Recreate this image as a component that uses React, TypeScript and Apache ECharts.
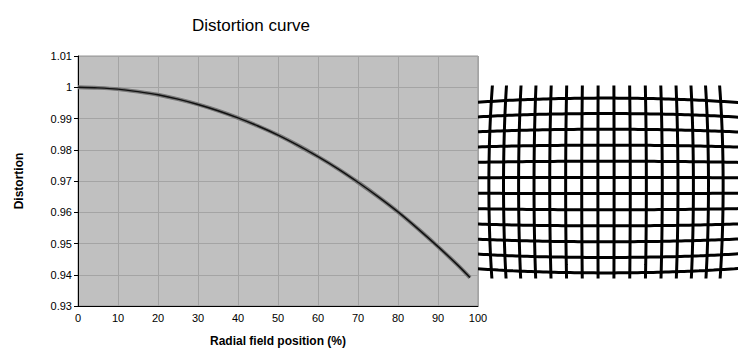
import React, { useEffect, useRef } from "react";
import * as echarts from "echarts";

// Distortion curve
const fieldPos = [0, 5, 10, 15, 20, 25, 30, 35, 40, 45, 50, 55, 60, 65, 70, 75, 80, 85, 90, 95, 98];
const distortion = [
  1.0, 0.9998, 0.9994, 0.9986, 0.9976, 0.9962, 0.9945, 0.9925, 0.9902, 0.9876, 0.9847,
  0.9814, 0.9778, 0.9739, 0.9696, 0.965, 0.9601, 0.9547, 0.949, 0.943, 0.9391,
];
const yTicks = [0.93, 0.94, 0.95, 0.96, 0.97, 0.98, 0.99, 1, 1.01];
const xTicks = [0, 10, 20, 30, 40, 50, 60, 70, 80, 90, 100];

// Illustration: a regular grid warped by the distortion curve above
const gridColumns = [-7.5, -6.5, -5.5, -4.5, -3.5, -2.5, -1.5, -0.5, 0.5, 1.5, 2.5, 3.5, 4.5, 5.5, 6.5, 7.5];
const gridRows = [-5.5, -4.5, -3.5, -2.5, -1.5, -0.5, 0.5, 1.5, 2.5, 3.5, 4.5, 5.5];
const gridPitch = 16.2; // undistorted spacing, image units
const fieldRadius = 160; // image units corresponding to 100 % radial field

const FONT = "'Liberation Sans', Arial, sans-serif";

function distortAt(rPct: number): number {
  const n = fieldPos.length;
  if (rPct <= fieldPos[0]) return distortion[0];
  for (let i = 1; i < n; i++) {
    if (rPct <= fieldPos[i]) {
      const t = (rPct - fieldPos[i - 1]) / (fieldPos[i] - fieldPos[i - 1]);
      return distortion[i - 1] + t * (distortion[i] - distortion[i - 1]);
    }
  }
  const slope = (distortion[n - 1] - distortion[n - 2]) / (fieldPos[n - 1] - fieldPos[n - 2]);
  return distortion[n - 1] + slope * (rPct - fieldPos[n - 1]);
}

function warp(u: number, v: number): [number, number] {
  const x = u * gridPitch;
  const y = v * gridPitch;
  const r = (Math.hypot(x, y) / fieldRadius) * 100;
  const d = distortAt(r);
  return [x * d, y * d];
}

function buildGridSeries(): any[] {
  const out: any[] = [];
  const style = {
    type: "line",
    xAxisIndex: 1,
    yAxisIndex: 1,
    showSymbol: false,
    silent: true,
    clip: true,
    smooth: true,
    lineStyle: { color: "#000", width: 3 },
  };
  for (const c of gridColumns) {
    const pts: [number, number][] = [];
    for (let v = -8; v <= 8.001; v += 0.5) pts.push(warp(c, v));
    out.push({ ...style, data: pts });
  }
  for (const r of gridRows) {
    const pts: [number, number][] = [];
    for (let u = -10; u <= 10.001; u += 0.5) pts.push(warp(u, -r));
    out.push({ ...style, data: pts });
  }
  return out;
}

export default function App() {
  const ref = useRef<HTMLDivElement>(null);
  useEffect(() => {
    if (!ref.current) return;
    const chart = echarts.init(ref.current, null, { renderer: "svg" });
    const curve = fieldPos.map((x, i) => [x, distortion[i]]);
    chart.setOption({
      animation: false,
      backgroundColor: "#fff",
      title: {
        text: "Distortion curve",
        left: 246,
        top: 12,
        textAlign: "center",
        textStyle: { fontFamily: FONT, fontSize: 17, fontWeight: "normal", color: "#000" },
      },
      grid: [
        {
          left: 78,
          top: 56,
          width: 400,
          height: 250,
          show: true,
          backgroundColor: "#c0c0c0",
          borderColor: "#969696",
          borderWidth: 1,
        },
        { left: 480, top: 87, width: 256, height: 190, show: false },
      ],
      xAxis: [
        {
          type: "value",
          gridIndex: 0,
          min: xTicks[0],
          max: xTicks[xTicks.length - 1],
          interval: 10,
          name: "Radial field position (%)",
          nameLocation: "middle",
          nameGap: 29,
          nameTextStyle: { fontFamily: FONT, fontSize: 12, fontWeight: "bold", color: "#000" },
          axisLine: { show: true, lineStyle: { color: "#000", width: 1 } },
          axisTick: { show: false },
          axisLabel: { fontFamily: FONT, fontSize: 11, color: "#000", margin: 6 },
          splitLine: { show: true, lineStyle: { color: "#a4a4a4", width: 1 } },
        },
        { type: "value", gridIndex: 1, min: -126, max: 130, show: false },
      ],
      yAxis: [
        {
          type: "value",
          gridIndex: 0,
          min: yTicks[0],
          max: yTicks[yTicks.length - 1],
          interval: 0.01,
          name: "Distortion",
          nameLocation: "middle",
          nameRotate: 90,
          nameGap: 53,
          nameTextStyle: { fontFamily: FONT, fontSize: 12, fontWeight: "bold", color: "#000" },
          axisLine: { show: true, lineStyle: { color: "#000", width: 1 } },
          axisTick: { show: true, inside: false, length: 4, lineStyle: { color: "#000" } },
          axisLabel: {
            fontFamily: FONT,
            fontSize: 11,
            color: "#000",
            margin: 6,
            formatter: (v: number) => String(Math.round(v * 100) / 100),
          },
          splitLine: { show: true, lineStyle: { color: "#a4a4a4", width: 1 } },
        },
        { type: "value", gridIndex: 1, min: -91.5, max: 98.5, show: false },
      ],
      series: [
        {
          type: "line",
          xAxisIndex: 0,
          yAxisIndex: 0,
          data: curve,
          smooth: 0.3,
          showSymbol: false,
          lineStyle: { color: "#777", width: 4 },
          z: 3,
        },
        {
          type: "line",
          xAxisIndex: 0,
          yAxisIndex: 0,
          data: curve,
          smooth: 0.3,
          showSymbol: false,
          lineStyle: { color: "#111", width: 1.5 },
          z: 4,
        },
        ...buildGridSeries(),
      ],
    });
    return () => chart.dispose();
  }, []);
  return <div ref={ref} style={{ width: 753, height: 356, position: "absolute", left: 0, top: 0 }} />;
}
